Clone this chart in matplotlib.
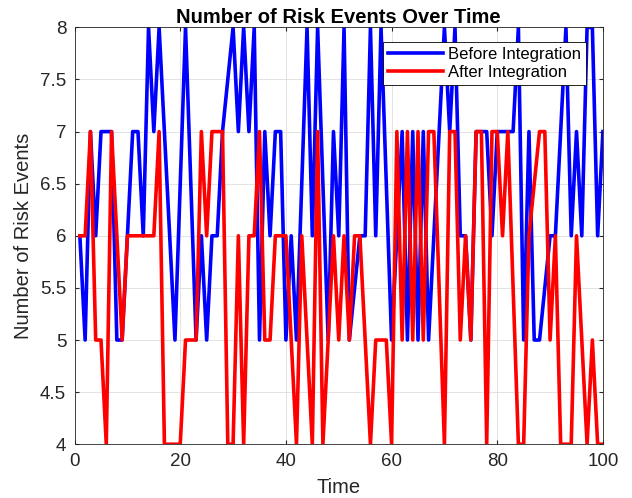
import matplotlib
matplotlib.use("Agg")
import matplotlib.pyplot as plt
import numpy as np

plt.rcParams['font.family'] = ['Liberation Sans', 'DejaVu Sans']

time = np.arange(1, 101)

before = [6, 5, 7, 6, 7, 7, 7, 5, 5, 6,
          7, 7, 6, 8, 7, 8, 7, 6, 5, 6.5,
          8, 6.5, 5, 6, 5, 6, 6, 7, 7.5, 8,
          7, 8, 7, 8, 5, 7, 6, 7, 7, 5,
          6, 5, 6.5, 8, 6, 8, 6.5, 5, 7, 6,
          8, 5, 5.5, 6, 6, 8, 6, 8, 6.5, 5,
          6, 7, 5, 7, 5, 7, 5, 6, 7, 8,
          7, 8, 6, 6, 5, 7, 7, 7, 6, 7,
          7, 7, 7, 8, 5, 7, 5, 5, 5.5, 6,
          6, 7, 8, 6, 7, 6, 8, 8, 6, 7]

after = [6, 6, 7, 5, 5, 4, 7, 6, 5, 6,
         6, 6, 6, 6, 6, 7, 4, 4, 4, 4,
         5, 5, 5, 7, 6, 7, 7, 7, 4, 4,
         6, 4, 6, 6, 7, 5, 5, 6, 6, 6,
         5, 4, 6, 5, 4, 7, 4, 5, 6, 5,
         6, 5, 6, 6, 5, 4, 5, 5, 5, 4,
         7, 5, 7, 5, 7, 5, 7, 7, 5.5, 4,
         7, 7, 5, 6, 5, 7, 7, 4, 7, 7,
         6, 7, 5.5, 4, 4, 6, 6.5, 7, 7, 5,
         6, 4, 4, 4, 6, 5, 4, 5, 4, 4]

labels = ["Before Integration", "After Integration"]
dark = (0.15, 0.15, 0.15)

fig = plt.figure(figsize=(6.32, 4.98), dpi=100)
ax = fig.add_axes([0.118, 0.108, 0.836, 0.837])

ax.plot(time, before, color=(0, 0, 1), linewidth=2.6, label=labels[0])
ax.plot(time, after, color=(1, 0, 0), linewidth=2.6, label=labels[1])

ax.set_xlim(0, 100)
ax.set_ylim(4, 8)
ax.set_xticks(np.arange(0, 101, 20))
ax.set_yticks(np.arange(4, 8.01, 0.5))
ax.set_yticklabels(["4", "4.5", "5", "5.5", "6", "6.5", "7", "7.5", "8"])
ax.grid(True, color=(0.87, 0.87, 0.87), linewidth=0.6)
ax.set_axisbelow(True)
for s in ax.spines.values():
    s.set_color(dark)
    s.set_linewidth(0.6)
ax.tick_params(direction='in', top=True, right=True, length=3,
               labelsize=13.5, colors=dark, pad=6)

ax.set_title("Number of Risk Events Over Time", fontsize=14.5, fontweight='bold', pad=3)
ax.set_xlabel("Time", fontsize=14.5, color=dark, labelpad=6)
ax.set_ylabel("Number of Risk Events", fontsize=14.5, color=dark, labelpad=5)

leg = ax.legend(loc='upper right', bbox_to_anchor=(0.968, 0.965), fontsize=12,
                frameon=True, fancybox=False, edgecolor='black', framealpha=1,
                handlelength=3.3, borderpad=0.28, labelspacing=0.22, handletextpad=0.35,
                borderaxespad=0)
leg.get_frame().set_linewidth(0.6)

fig.savefig("out.png", dpi=100)
